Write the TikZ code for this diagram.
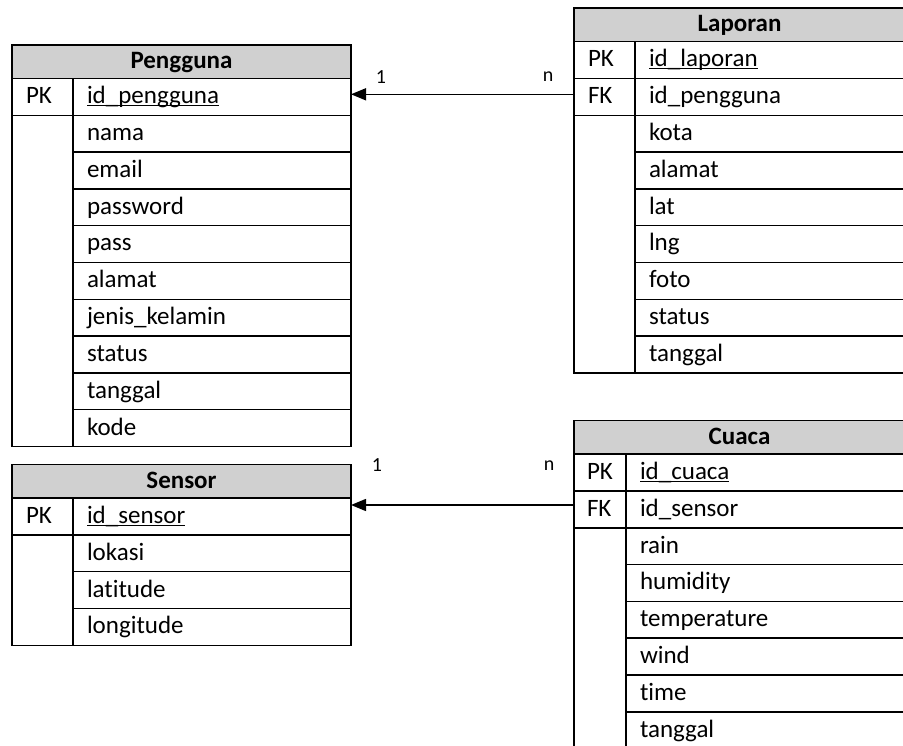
\documentclass[tikz,border=0pt]{standalone}
\usepackage{fontspec}
\setmainfont{Carlito}[Ligatures=NoCommon]
\usetikzlibrary{arrows.meta,calc}

\definecolor{headgray}{RGB}{208,208,208}
\newcommand{\erdfont}{\fontsize{25}{30}\selectfont}
\newcommand{\pkname}[1]{\underline{\smash{#1}}}

\tikzset{
  cell/.style={draw, line width=1.5pt, anchor=north west, inner sep=0pt, outer sep=0pt,
    minimum height=36.8pt, text height=17.5pt, text depth=3.7pt, align=left, font=\erdfont},
  head/.style={cell, fill=headgray, minimum height=33.5pt, align=center, font=\erdfont\bfseries},
  card/.style={font=\fontsize{20}{24}\selectfont, inner sep=0pt},
  relation/.style={->, line width=1.5pt}
}

\begin{document}
\begin{tikzpicture}[x=1pt, y=-1pt, >={Triangle[length=15pt,width=12pt]}]
    \useasboundingbox (0,0) rectangle (903,746);
    \clip (0,0) rectangle (903,746);

    % Pengguna
    \begin{scope}[keycol/.style={cell, minimum width=61pt, text width=33pt},
                  fieldcol/.style={cell, minimum width=278pt, text width=250pt}]
        \node[head, minimum width=339pt] (pengguna) at (12,45) {Pengguna};
        \node[keycol] (pengguna-pk) at (12,78.5) {PK};
        \node[keycol, minimum height=331.2pt] (pengguna-key) at (12,115.3) {};
        \node[fieldcol] (pengguna-1) at (73,78.5) {\pkname{id\_pengguna}};
        \foreach \f [count=\i from 2] in {nama, email, password, pass, alamat, jenis\_kelamin, status, tanggal, kode} {
            \node[fieldcol] (pengguna-\i) at (73, {78.5+36.8*(\i-1)}) {\f};
        }
    \end{scope}

    % Laporan
    \begin{scope}[keycol/.style={cell, minimum width=61pt, text width=33pt},
                  fieldcol/.style={cell, minimum width=270pt, text width=242pt}]
        \node[head, minimum width=331pt] (laporan) at (574,8.2) {Laporan};
        \node[keycol] (laporan-pk) at (574,41.7) {PK};
        \node[keycol] (laporan-fk) at (574,78.5) {FK};
        \node[keycol, minimum height=257.6pt] (laporan-key) at (574,115.3) {};
        \node[fieldcol] (laporan-1) at (635,41.7) {\pkname{id\_laporan}};
        \foreach \f [count=\i from 2] in {id\_pengguna, kota, alamat, lat, lng, foto, status, tanggal} {
            \node[fieldcol] (laporan-\i) at (635, {41.7+36.8*(\i-1)}) {\f};
        }
    \end{scope}

    % Sensor
    \begin{scope}[keycol/.style={cell, minimum width=61pt, text width=33pt},
                  fieldcol/.style={cell, minimum width=278pt, text width=250pt}]
        \node[head, minimum width=339pt] (sensor) at (12,464.6) {Sensor};
        \node[keycol] (sensor-pk) at (12,498.1) {PK};
        \node[keycol, minimum height=110.4pt] (sensor-key) at (12,534.9) {};
        \node[fieldcol] (sensor-1) at (73,498.1) {\pkname{id\_sensor}};
        \foreach \f [count=\i from 2] in {lokasi, latitude, longitude} {
            \node[fieldcol] (sensor-\i) at (73, {498.1+36.8*(\i-1)}) {\f};
        }
    \end{scope}

    % Cuaca
    \begin{scope}[keycol/.style={cell, minimum width=52pt, text width=26pt},
                  fieldcol/.style={cell, minimum width=279pt, text width=251pt}]
        \node[head, minimum width=331pt] (cuaca) at (574,420.7) {Cuaca};
        \node[keycol] (cuaca-pk) at (574,454.2) {PK};
        \node[keycol] (cuaca-fk) at (574,491) {FK};
        \node[keycol, minimum height=220.8pt] (cuaca-key) at (574,527.8) {};
        \node[fieldcol] (cuaca-1) at (626,454.2) {\pkname{id\_cuaca}};
        \foreach \f [count=\i from 2] in {id\_sensor, rain, humidity, temperature, wind, time, tanggal} {
            \node[fieldcol] (cuaca-\i) at (626, {454.2+36.8*(\i-1)}) {\f};
        }
    \end{scope}

    % relasi
    \coordinate (rel-lap) at ($(laporan-fk.west)+(0,-2.6)$);
    \draw[relation] (rel-lap) -- (rel-lap -| pengguna-1.east);
    \node[card] (card-lap-1) at (381,77) {1};
    \node[card] (card-lap-n) at (548,77) {n};

    \coordinate (rel-cua) at ($(cuaca-fk.west)+(0,-4.4)$);
    \draw[relation] (rel-cua) -- (rel-cua -| sensor-1.east);
    \node[card] (card-cua-1) at (377,465) {1};
    \node[card] (card-cua-n) at (549,466) {n};
\end{tikzpicture}
\end{document}
